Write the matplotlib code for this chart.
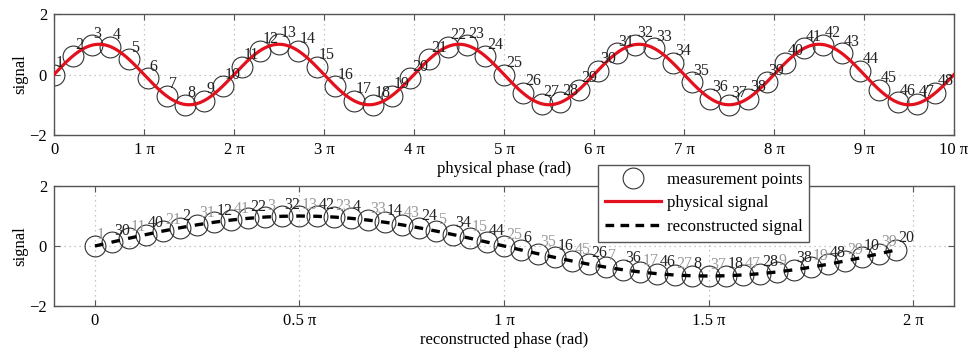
import numpy as np
import matplotlib.pyplot as plt
from matplotlib.lines import Line2D

plt.rcParams['font.family'] = ['Liberation Serif', 'DejaVu Serif']
plt.rcParams['font.size'] = 12
plt.rcParams['axes.unicode_minus'] = True

# numéros des points de mesure et leur phase physique (en unités de pi)
point_numbers = list(range(1, 49))
physical_phase_pi = [0.0, 0.2083, 0.4167, 0.625, 0.8333, 1.0417, 1.25, 1.4583,
                     1.6667, 1.875, 2.0833, 2.2917, 2.5, 2.7083, 2.9167, 3.125,
                     3.3333, 3.5417, 3.75, 3.9583, 4.1667, 4.375, 4.5833, 4.7917,
                     5.0, 5.2083, 5.4167, 5.625, 5.8333, 6.0417, 6.25, 6.4583,
                     6.6667, 6.875, 7.0833, 7.2917, 7.5, 7.7083, 7.9167, 8.125,
                     8.3333, 8.5417, 8.75, 8.9583, 9.1667, 9.375, 9.5833, 9.7917]

top_ticks = list(range(0, 11))
top_tick_labels = ['0'] + ['%d π' % k for k in range(1, 11)]
bottom_ticks = [0, 0.5, 1, 1.5, 2]
bottom_tick_labels = ['0', '0.5 π', '1 π', '1.5 π', '2 π']
y_ticks = [-2, 0, 2]

# signal physique et phase reconstruite (modulo 2 pi)
phase = np.pi * np.array(physical_phase_pi)
signal = np.sin(phase)
rec_phase = np.mod(phase, 2 * np.pi)
order = np.argsort(rec_phase)
curve_x = np.linspace(0, 10 * np.pi, 1000)

RED = '#e3101e'
EDGE = '#555555'
MS = 15


def style_axes(ax):
    for s in ax.spines.values():
        s.set_color(EDGE)
        s.set_linewidth(1.0)
    ax.tick_params(direction='in', length=4, width=0.8, color=EDGE,
                   top=True, right=True, pad=5)
    ax.grid(True, linestyle=(0, (1, 3)), color='#b5b5b5', linewidth=0.9)
    ax.set_axisbelow(True)
    ax.set_ylim(-2, 2)
    ax.set_yticks(y_ticks)
    ax.set_ylabel('signal', labelpad=1)


fig = plt.figure(figsize=(9.68, 3.55), dpi=100)
ax1 = fig.add_axes([0.0558, 0.6197, 0.9298, 0.3408])
ax2 = fig.add_axes([0.0558, 0.138, 0.9298, 0.338])

# Graphique du haut : phase physique
style_axes(ax1)
ax1.plot(phase, signal, 'o', ms=MS, mfc='none', mec='#333333', mew=0.8, zorder=2)
ax1.plot(curve_x, np.sin(curve_x), color=RED, lw=2.3, zorder=3)
for n, x, y in zip(point_numbers, phase, signal):
    ax1.annotate(str(n), (x, y), xytext=(1.5, 2.5), textcoords='offset points',
                 ha='left', va='bottom', color='#222222', fontsize=11.5, zorder=4)
ax1.set_xlim(0, 10 * np.pi)
ax1.set_xticks(np.pi * np.array(top_ticks))
ax1.set_xticklabels(top_tick_labels)
ax1.set_xlabel('physical phase (rad)', labelpad=2)

# Graphique du bas : phase reconstruite
style_axes(ax2)
ax2.plot(rec_phase, signal, 'o', ms=MS, mfc='none', mec='#333333', mew=0.8, zorder=2)
ax2.plot(rec_phase[order], signal[order], color='black', lw=2.4,
         dashes=(2.6, 2.5), zorder=3)
for n, x, y in zip(point_numbers, rec_phase, signal):
    col = '#999999' if n % 2 == 1 else '#222222'
    ax2.annotate(str(n), (x, y), xytext=(1.5, 2.5), textcoords='offset points',
                 ha='left', va='bottom', color=col, fontsize=11.5, zorder=4)
ax2.set_xlim(-0.1 * np.pi, 2.1 * np.pi)
ax2.set_xticks(np.pi * np.array(bottom_ticks))
ax2.set_xticklabels(bottom_tick_labels)
ax2.set_xlabel('reconstructed phase (rad)', labelpad=2)

# Légende entre les deux graphiques
handles = [Line2D([], [], ls='none', marker='o', ms=MS, mfc='none', mec='#333333', mew=0.8),
           Line2D([], [], color=RED, lw=2.3),
           Line2D([], [], color='black', lw=2.4, dashes=(2.6, 1.9))]
labels = ['measurement points', 'physical signal', 'reconstructed signal']
leg = fig.legend(handles, labels, loc='upper left',
                 bbox_to_anchor=(598 / 968, 1 - 165 / 355), borderaxespad=0,
                 fancybox=False, framealpha=1, edgecolor=EDGE, handlelength=3.3,
                 handletextpad=0.35, labelspacing=0.45, borderpad=0.4, fontsize=12.2)
leg.get_frame().set_linewidth(1.0)
leg.set_zorder(10)

fig.savefig('out.png', dpi=100)
